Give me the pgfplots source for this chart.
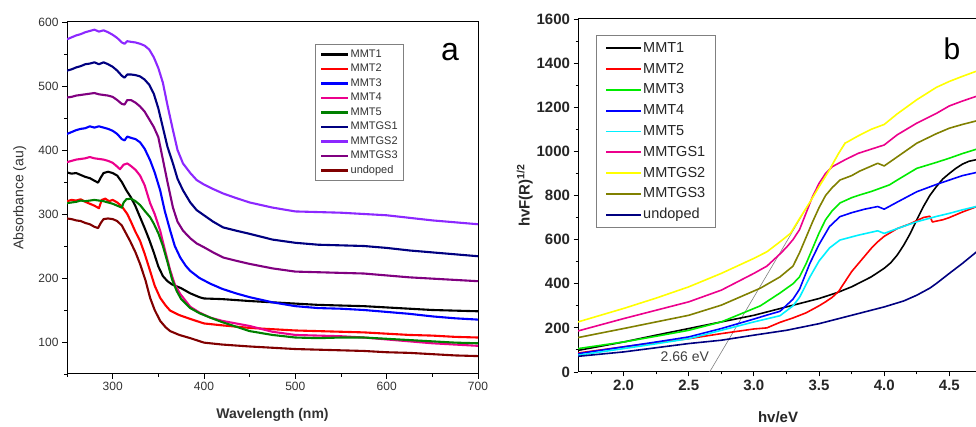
\documentclass[border=0pt]{standalone}
\usepackage{fontspec}
\setmainfont{Liberation Sans}
\usepackage{xcolor}
\usepackage{pgfplots}
\pgfplotsset{compat=1.18}

\definecolor{cviolet}{RGB}{140,40,255}
\definecolor{cnavy}{RGB}{0,0,128}
\definecolor{cpurple}{RGB}{128,0,128}
\definecolor{cdarkred}{RGB}{128,0,0}
\definecolor{cgreenL}{RGB}{0,128,0}
\definecolor{cgreenR}{RGB}{0,235,0}
\definecolor{ccyan}{RGB}{0,240,255}
\definecolor{colive}{RGB}{128,128,0}
\definecolor{cyellow}{RGB}{255,255,0}
\definecolor{tickgray}{RGB}{50,50,50}

\begin{document}
\begin{tikzpicture}
\useasboundingbox (0pt,0pt) rectangle (976pt,427pt);

% ---------------- panel a ----------------
\begin{axis}[
  scale only axis,
  width=411pt, height=352pt,
  at={(67pt,53pt)}, anchor=south west,
  xmin=250, xmax=700, ymin=50, ymax=600,
  xtick={300,400,...,700}, minor xtick={250,350,...,650},
  ytick={100,200,...,600}, minor ytick={50,150,...,550},
  tick align=outside, xtick pos=left, ytick pos=left,
  major tick length=5pt, minor tick length=3pt,
  every tick/.style={black, line width=0.9pt},
  axis line style={line width=1pt},
  /pgf/number format/assume math mode=true,
  /pgf/number format/1000 sep={},
  ticklabel style={font=\fontsize{12}{12}\selectfont, text=tickgray},
  xlabel={\bfseries Wavelength (nm)},
  ylabel={Absorbance (au)},
  label style={font=\fontsize{14}{14}\selectfont, text=tickgray},
  xlabel style={at={(axis description cs:0.5,-0.116)}, anchor=center},
  ylabel style={at={(axis description cs:-0.115,0.5)}, anchor=center},
  every axis plot/.append style={line width=2.1pt, line join=round},
  legend cell align=left,
  legend image code/.code={\draw[#1, line width=2.4pt] (0pt,0pt) -- (27pt,0pt);},
  legend style={at={(0.603,0.9375)}, anchor=north west, draw=gray, line width=0.8pt,
    font=\fontsize{11}{11}\selectfont, text=tickgray, row sep=2pt,
    inner xsep=5pt, inner ysep=4pt,
    nodes={inner sep=1pt, text height=8pt, text depth=2.5pt}},
]
\addplot[black] coordinates {(250,365)(255,363)(260,364)(265,361)(270,358)(275,356)(280,352)(284,349)(287,357)(290,364)(295,366)(300,364)(305,360)(310,350)(315,337)(320,326)(325,312)(330,295)(335,278)(340,260)(345,240)(350,218)(355,203)(360,195)(365,190)(375,184)(385,176)(395,170)(400,168)(420,167)(450,164)(475,162)(500,160)(525,158)(550,157)(575,156)(600,154)(625,152)(650,150)(675,149)(700,148)};
\addlegendentry{MMT1}
\addplot[red] coordinates {(250,320)(255,322)(260,321)(265,323)(270,319)(275,316)(280,313)(285,309)(288,322)(292,324)(296,320)(300,322)(305,318)(310,312)(316,300)(320,288)(325,272)(330,258)(335,238)(341,211)(346,188)(352,169)(358,157)(363,149)(373,142)(385,136)(400,129)(420,126)(450,122)(475,120)(500,118)(525,117)(550,116)(575,115)(600,113)(625,111)(650,110)(675,108)(700,107)};
\addlegendentry{MMT2}
\addplot[blue] coordinates {(250,425)(255,428)(260,431)(265,433)(270,434)(275,437)(280,435)(285,437)(290,435)(295,433)(300,430)(305,425)(310,417)(313,415)(316,421)(320,419)(325,417)(330,412)(335,402)(341,384)(346,365)(352,337)(357,305)(363,274)(368,250)(374,232)(380,219)(385,211)(395,200)(407,191)(420,183)(435,176)(450,170)(475,162)(500,156)(525,153)(550,152)(575,150)(600,147)(625,144)(650,140)(675,137)(700,135)};
\addlegendentry{MMT3}
\addplot[magenta] coordinates {(250,381)(255,383)(260,385)(265,386)(270,387)(275,389)(280,387)(285,386)(290,385)(295,383)(300,380)(305,374)(308,370)(312,377)(316,379)(320,375)(325,369)(330,360)(335,345)(341,317)(346,300)(352,274)(357,245)(363,212)(368,190)(374,175)(385,155)(395,146)(407,138)(420,133)(435,129)(450,125)(475,116)(500,111)(525,110)(550,109)(575,107)(600,104)(625,101)(650,98)(675,96)(700,94)};
\addlegendentry{MMT4}
\addplot[cgreenL] coordinates {(250,317)(255,318)(260,319)(265,321)(270,320)(275,321)(280,322)(285,321)(290,320)(295,318)(300,316)(305,313)(310,310)(312,318)(315,323)(320,324)(325,320)(330,314)(335,305)(341,295)(345,285)(350,270)(355,250)(360,225)(365,198)(370,180)(375,167)(385,153)(395,145)(407,138)(420,131)(435,124)(450,117)(475,111)(500,107)(525,106)(550,107)(575,107)(600,105)(625,103)(650,101)(675,99)(700,98)};
\addlegendentry{MMT5}
\addplot[cnavy] coordinates {(250,524)(255,526)(260,529)(265,531)(270,534)(275,535)(280,537)(285,534)(290,537)(295,534)(300,530)(305,524)(310,516)(313,513)(316,518)(320,518)(325,517)(330,515)(335,510)(340,502)(345,488)(350,465)(355,435)(360,405)(366,379)(371,355)(377,337)(385,318)(392,306)(400,298)(410,288)(421,279)(435,274)(450,269)(475,260)(500,255)(525,252)(550,251)(575,250)(600,247)(625,243)(650,240)(675,237)(700,234)};
\addlegendentry{MMTGS1}
\addplot[cviolet] coordinates {(250,573)(255,576)(260,579)(265,581)(270,584)(275,586)(280,588)(285,585)(290,587)(295,584)(300,580)(305,575)(310,568)(313,566)(316,570)(320,569)(325,568)(330,566)(335,563)(340,557)(345,545)(350,528)(355,505)(360,470)(366,431)(371,400)(377,379)(385,364)(392,353)(400,346)(410,339)(421,332)(435,325)(450,318)(475,310)(500,304)(525,303)(550,302)(575,300)(600,298)(625,294)(650,290)(675,287)(700,284)};
\addlegendentry{MMTGS2}
\addplot[cpurple] coordinates {(250,482)(255,483)(260,485)(265,486)(270,487)(275,488)(280,489)(285,487)(290,486)(295,485)(300,483)(305,478)(310,472)(313,471)(316,478)(320,478)(325,474)(330,468)(335,460)(340,448)(345,436)(350,420)(355,385)(360,350)(366,310)(371,288)(377,274)(385,262)(392,254)(400,248)(410,240)(421,232)(435,227)(450,222)(475,215)(500,210)(525,209)(550,208)(575,207)(600,204)(625,201)(650,199)(675,197)(700,195)};
\addlegendentry{MMTGS3}
\addplot[cdarkred] coordinates {(250,293)(255,292)(260,290)(265,289)(270,286)(275,284)(280,280)(284,278)(287,286)(290,292)(295,293)(300,292)(305,289)(310,282)(316,266)(319,258)(325,240)(330,222)(336,196)(341,169)(346,150)(352,133)(358,123)(363,117)(373,111)(385,106)(400,99)(420,96)(450,93)(475,91)(500,89)(525,88)(550,87)(575,86)(600,84)(625,83)(650,81)(675,79)(700,78)};
\addlegendentry{undoped}
\end{axis}
\node[font=\fontsize{32}{32}\selectfont] at (450pt,375pt) {a};

% ---------------- panel b ----------------
\begin{axis}[
  scale only axis,
  width=400pt, height=353pt,
  at={(578pt,55pt)}, anchor=south west,
  xmin=1.65, xmax=4.72, ymin=0, ymax=1600,
  xtick={2,2.5,...,4.5}, minor xtick={1.75,2.25,...,4.75},
  ytick={0,200,...,1600}, minor ytick={100,300,...,1500},
  tick align=outside, xtick pos=left, ytick pos=left,
  major tick length=4.5pt, minor tick length=2.5pt,
  every tick/.style={black, line width=0.9pt},
  axis line style={line width=1pt},
  /pgf/number format/assume math mode=true,
  /pgf/number format/1000 sep={},
  xticklabel style={/pgf/number format/fixed, /pgf/number format/fixed zerofill, /pgf/number format/precision=1},
  ticklabel style={font=\fontsize{15}{15}\selectfont\bfseries, text=black!85},
  xlabel={hv/eV},
  ylabel={hvF(R)\textsuperscript{1/2}},
  label style={font=\fontsize{15}{15}\selectfont\bfseries, text=black!85},
  xlabel style={at={(axis description cs:0.5,-0.127)}, anchor=center},
  ylabel style={at={(axis description cs:-0.133,0.5)}, anchor=center},
  every axis plot/.append style={line width=1.6pt, line join=round},
  legend cell align=left,
  legend image code/.code={\draw[#1, line width=1.8pt] (0pt,0pt) -- (35pt,0pt);},
  legend style={at={(0.045,0.955)}, anchor=north west, draw=gray, line width=0.8pt,
    font=\fontsize{14.5}{14.5}\selectfont, text=black!85, row sep=4.8pt,
    inner xsep=9pt, inner ysep=5pt,
    nodes={inner sep=1pt, text height=11pt, text depth=3pt}},
]
% tangent line for the band gap estimate
\addplot[gray, line width=0.6pt, forget plot] coordinates {(2.66,0)(3.70,1040)};
\addplot[black] coordinates {(1.65,98)(2.0,136)(2.25,167)(2.5,197)(2.75,227)(3.0,257)(3.25,295)(3.5,333)(3.64,360)(3.75,386)(3.9,431)(4.0,470)(4.05,495)(4.1,530)(4.15,575)(4.2,628)(4.25,690)(4.3,749)(4.35,800)(4.4,840)(4.45,875)(4.5,900)(4.55,923)(4.6,942)(4.65,955)(4.72,964)};
\addlegendentry{MMT1}
\addplot[red] coordinates {(1.65,86)(2.0,114)(2.25,133)(2.5,151)(2.75,174)(3.0,195)(3.1,200)(3.2,225)(3.3,245)(3.4,268)(3.5,300)(3.55,318)(3.6,338)(3.65,365)(3.7,410)(3.75,455)(3.8,490)(3.85,525)(3.9,560)(3.95,590)(4.0,615)(4.1,650)(4.2,672)(4.3,700)(4.35,706)(4.37,680)(4.45,690)(4.5,700)(4.6,725)(4.72,752)};
\addlegendentry{MMT2}
\addplot[cgreenR] coordinates {(1.65,106)(2.0,136)(2.25,162)(2.5,189)(2.75,227)(3.05,300)(3.2,358)(3.3,400)(3.35,431)(3.4,490)(3.45,560)(3.5,630)(3.55,690)(3.6,730)(3.66,766)(3.75,790)(3.81,802)(3.9,818)(4.04,848)(4.1,870)(4.25,923)(4.4,950)(4.5,969)(4.6,990)(4.72,1012)};
\addlegendentry{MMT3}
\addplot[blue] coordinates {(1.65,83)(2.0,114)(2.25,136)(2.5,159)(2.75,197)(3.0,240)(3.1,258)(3.2,275)(3.3,330)(3.35,375)(3.43,493)(3.5,578)(3.58,659)(3.66,704)(3.75,722)(3.85,738)(3.95,750)(4.0,738)(4.1,770)(4.25,817)(4.4,850)(4.5,870)(4.6,890)(4.72,906)};
\addlegendentry{MMT4}
\addplot[ccyan] coordinates {(1.65,76)(2.0,106)(2.25,128)(2.5,151)(2.75,189)(3.0,227)(3.2,255)(3.3,300)(3.35,338)(3.43,431)(3.5,503)(3.58,562)(3.66,598)(3.8,620)(3.95,640)(4.0,628)(4.1,650)(4.25,681)(4.4,705)(4.5,719)(4.6,735)(4.72,752)};
\addlegendentry{MMT5}
\addplot[magenta] coordinates {(1.65,186)(2.0,242)(2.25,280)(2.5,318)(2.75,371)(3.0,447)(3.1,480)(3.2,535)(3.25,565)(3.3,600)(3.35,645)(3.4,720)(3.45,795)(3.5,855)(3.55,900)(3.6,930)(3.7,962)(3.8,991)(3.9,1010)(4.0,1029)(4.1,1075)(4.25,1128)(4.4,1172)(4.5,1206)(4.6,1228)(4.72,1252)};
\addlegendentry{MMTGS1}
\addplot[cyellow] coordinates {(1.65,227)(2.0,288)(2.25,335)(2.5,386)(2.75,447)(3.0,515)(3.1,545)(3.2,590)(3.28,628)(3.35,695)(3.43,770)(3.5,840)(3.58,916)(3.65,991)(3.7,1037)(3.8,1070)(3.9,1100)(4.0,1122)(4.1,1170)(4.25,1234)(4.4,1290)(4.5,1317)(4.6,1340)(4.72,1366)};
\addlegendentry{MMTGS2}
\addplot[colive] coordinates {(1.65,156)(2.0,197)(2.25,227)(2.5,257)(2.75,303)(3.05,380)(3.2,431)(3.3,480)(3.35,540)(3.4,610)(3.45,680)(3.5,745)(3.55,800)(3.6,835)(3.66,870)(3.75,890)(3.81,910)(3.95,946)(4.0,934)(4.1,975)(4.25,1037)(4.4,1080)(4.5,1105)(4.6,1122)(4.72,1140)};
\addlegendentry{MMTGS3}
\addplot[cnavy] coordinates {(1.65,71)(2.0,91)(2.25,110)(2.5,129)(2.75,144)(3.0,167)(3.25,189)(3.5,219)(3.75,257)(4.0,295)(4.15,322)(4.25,348)(4.35,380)(4.4,401)(4.5,447)(4.6,492)(4.72,550)};
\addlegendentry{undoped}
\node[font=\fontsize{14}{14}\selectfont, text=black!75] at (axis cs:2.47,68) {2.66 eV};
\end{axis}
\node[font=\fontsize{30}{30}\selectfont] at (952pt,378pt) {b};
\end{tikzpicture}
\end{document}
